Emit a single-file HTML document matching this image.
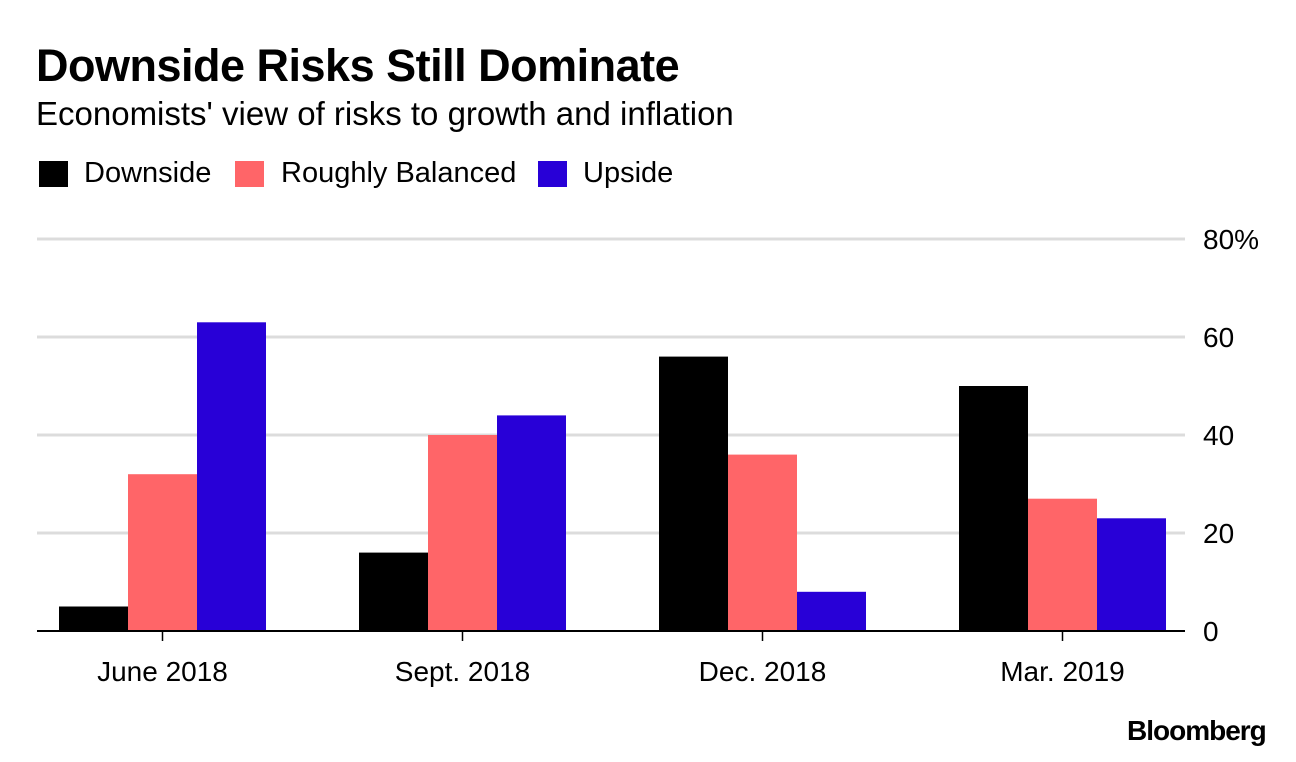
<!DOCTYPE html>
<html><head><meta charset="utf-8"><style>
body{margin:0;background:#fff;font-family:"Liberation Sans",sans-serif;}
#wrap{position:relative;width:1296px;height:762px;overflow:hidden;}
.t{position:absolute;white-space:nowrap;color:#000;}
</style></head><body>
<div id="wrap">
<div class="t" style="left:36px;top:40px;font-size:45px;font-weight:bold;letter-spacing:-0.5px">Downside Risks Still Dominate</div>
<div class="t" style="left:36px;top:95px;font-size:33px">Economists' view of risks to growth and inflation</div>
<div>
<div style="position:absolute;left:39px;top:161px;width:29px;height:26px;background:#000"></div>
<div class="t" style="left:84px;top:157px;font-size:29px">Downside</div>
<div style="position:absolute;left:235px;top:161px;width:29px;height:26px;background:#ff6568"></div>
<div class="t" style="left:281px;top:157px;font-size:29px">Roughly Balanced</div>
<div style="position:absolute;left:538px;top:161px;width:29px;height:26px;background:#2800d7"></div>
<div class="t" style="left:583px;top:157px;font-size:29px">Upside</div>
</div>
<svg id="svg" width="1296" height="762" style="position:absolute;left:0;top:0"></svg>
<div class="t" style="left:1127px;top:715px;font-size:28px;font-weight:bold;letter-spacing:-1px">Bloomberg</div>
</div>
<script>
const categories=["June 2018","Sept. 2018","Dec. 2018","Mar. 2019"];
const downside=[5,16,56,50];
const balanced=[32,40,36,27];
const upside=[63,44,8,23];
const yTicks=[0,20,40,60,80];
const yTickLabels=["0","20","40","60","80%"];
const NS="http://www.w3.org/2000/svg";
const svg=document.getElementById('svg');
const y0=631,yTop=239,xL=37,xR=1185;
const y=v=>y0-(v/80)*(y0-yTop);
const groupW=300, barW=69;
const cx=i=>xL+22+barW*1.5+i*groupW;
function mk(tag,attrs){const e=document.createElementNS(NS,tag);for(const k in attrs)e.setAttribute(k,attrs[k]);svg.appendChild(e);return e;}
yTicks.forEach((t,i)=>{
 if(t>0){const g=mk('line',{x1:xL,x2:xR,y1:y(t),y2:y(t),stroke:'#dcdcdc','stroke-width':3});
 
 }
 const tx=mk('text',{x:1203,y:y(t)+10,'font-size':28,'font-family':'Liberation Sans, sans-serif',fill:'#000'});
 tx.textContent=yTickLabels[i];
 
 
});
const series=[[downside,'#000','downside'],[balanced,'#ff6568','balanced'],[upside,'#2800d7','upside']];
categories.forEach((c,i)=>{
 series.forEach((s,j)=>{
  const v=s[0][i];
  const r=mk('rect',{x:cx(i)-barW*1.5+j*barW,y:y(v),width:barW,height:y0-y(v),fill:s[1]});
  
  
 });
 const tk=mk('line',{x1:cx(i),x2:cx(i),y1:y0,y2:y0+10,stroke:'#000','stroke-width':1.5});
 
 
 const lb=mk('text',{x:cx(i),y:681,'font-size':28,'text-anchor':'middle','font-family':'Liberation Sans, sans-serif',fill:'#000'});
 lb.textContent=c;
 
 
});
const ax=mk('line',{x1:xL,x2:xR,y1:y0,y2:y0,stroke:'#000','stroke-width':2});


</script>
</body></html>
